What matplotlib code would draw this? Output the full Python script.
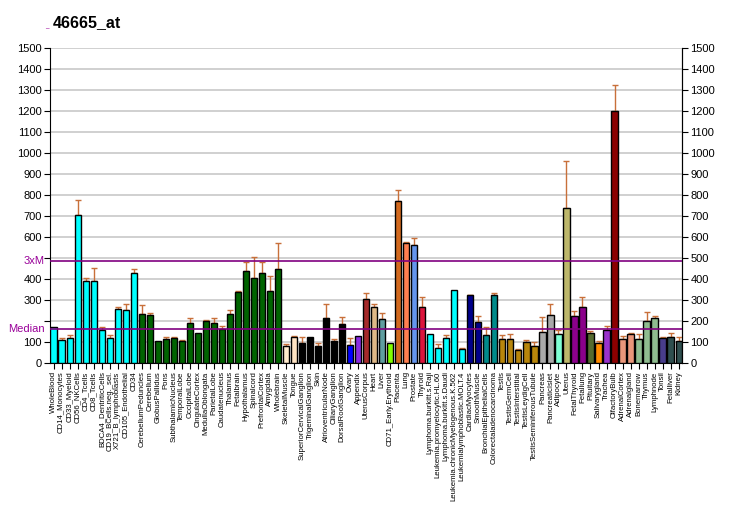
import numpy as np
import matplotlib
matplotlib.use("Agg")
import matplotlib.pyplot as plt

# Tissue names, in plot order
tissues = [
    "WholeBlood", "CD14_Monocytes", "CD33_Myeloid", "CD56_NKCells", "CD4_Tcells",
    "CD8_Tcells", "BDCA4_DentriticCells", "CD19_BCells.neg._sel.", "X721_B_lymphoblasts",
    "CD105_Endothelial", "CD34", "CerebellumPeduncles", "Cerebellum", "GlobusPallidus",
    "Pons", "SubthalamicNucleus", "TemporalLobe", "OccipitalLobe", "CingulateCortex",
    "MedullaOblongata", "ParietalLobe", "Caudatenucleus", "Thalamus", "Fetalbrain",
    "Hypothalamus", "Spinalcord", "PrefrontalCortex", "Amygdala", "Wholebrain",
    "SkeletalMuscle", "Tongue", "SuperiorCervicalGanglion", "TrigeminalGanglion", "Skin",
    "AtrioventricularNode", "CiliaryGanglion", "DorsalRootGanglion", "Ovary", "Appendix",
    "UterusCorpus", "Heart", "Liver", "CD71_Early.Erythroid", "Placenta", "Lung",
    "Prostate", "Thyroid", "Lymphoma.burkitt.s.Raji", "Leukemia.promyelocytic.HL.60",
    "Lymphoma.burkitt.s.Daudi", "Leukemia.chronicMyelogenous.K.562",
    "Leukemialymphoblastic.MOLT.4", "CardiacMyocytes", "SmoothMuscle",
    "BronchialEpithelialCells", "Colorectaladenocarcinoma", "Testis", "TestisGermCell",
    "TestisInterstitial", "TestisLeydigCell", "TestisSeminiferousTubule", "Pancreas",
    "PancreaticIslet", "Adipocyte", "Uterus", "FetalThyroid", "Fetallung", "Pituitary",
    "Salivarygland", "Trachea", "OlfactoryBulb", "AdrenalCortex", "Adrenalgland",
    "Bonemarrow", "Thymus", "Lymphnode", "Tonsil", "Fetalliver", "Kidney",
]

# bar heights
values = [
    173, 110, 120, 707, 389, 389, 158, 120, 259, 254, 427,
    235, 230, 106, 115, 120, 106, 192, 144, 202, 192, 163, 235, 336,
    437, 403, 427, 341, 446,
    82, 125, 96, 125, 82, 216, 106, 187, 86, 130, 307, 269, 211, 96,
    773, 571, 562, 269, 139, 72, 120, 346, 67, 322, 197, 134, 326,
    115, 115, 62, 101, 82, 149, 230, 139, 739, 226, 269, 144, 96, 158,
    1200, 115, 139, 115, 202, 216, 120, 125, 106,
]

# top of the error whisker (same order); None = no whisker
err_top = [
    None, 120, 134, 778, 403, 451, 173, 134, 269, 283, 446,
    274, 240, None, 125, 125, 110, 216, None, 206, 216, 178, 254, 341,
    480, 504, 480, 413, 571,
    91, 130, 125, None, 96, 283, 115, 221, 120, None, 331, 283, 240, None,
    822, 576, 595, 312, None, 91, 134, None, 72, 326, 226, 173, 331,
    134, 139, 67, 110, 101, 221, 283, 158, 962, 250, 312, 154, 106, 178,
    1324, 130, 144, 139, 245, 226, 125, 144, 125,
]

colors = (
    ["#00FFFF"] * 11 + ["#006400"] * 18 + ["#FFEBCD", "#FFE4C4"] + ["#000000"] * 6 +
    ["#0000FF", "#8A2BE2", "#A52A2A", "#DEB887", "#5F9EA0", "#7FFF00", "#D2691E",
     "#FF7F50", "#6495ED", "#DC143C"] + ["#00FFFF"] * 5 + ["#00008B"] * 2 +
    ["#008B8B"] * 2 + ["#B8860B"] * 5 + ["#A9A9A9"] * 2 +
    ["#7FFFD4", "#BDB76B", "#8B008B", "#8B008B", "#556B2F", "#FF8C00", "#9932CC",
     "#8B0000", "#E9967A", "#E9967A"] + ["#8FBC8F"] * 3 + ["#483D8B"] +
    ["#2F4F4F"] * 2
)

median = 162
three_m = 486

fig = plt.figure(figsize=(7.32, 5.30), dpi=100)
ax = fig.add_axes([50 / 732, 1 - 363 / 530, 632 / 732, 315 / 530])

x = np.arange(len(tissues))
vals = np.array(values)
up = np.array([0 if e is None else e - v for e, v in zip(err_top, values)])
has_err = np.array([e is not None for e in err_top])

ax.yaxis.grid(True, color="#c8c8c8", linewidth=1.2, zorder=0)
ax.set_axisbelow(True)

ax.errorbar(x[has_err], vals[has_err], yerr=[np.zeros(has_err.sum()), up[has_err]],
            fmt="none", ecolor="#C8703A", elinewidth=1, capsize=2.5, capthick=1, zorder=2)
ax.bar(x, vals, width=0.78, color=colors, edgecolor="black", linewidth=1, zorder=3)

ax.axhline(median, color="#800080", linewidth=1.2, zorder=4)
ax.axhline(three_m, color="#800080", linewidth=1.2, zorder=4)
ax.text(-0.008, median, "Median", transform=ax.get_yaxis_transform(), ha="right",
        va="center", color="#990099", fontsize=8, family="Liberation Sans")
ax.text(-0.008, three_m, "3xM", transform=ax.get_yaxis_transform(), ha="right",
        va="center", color="#990099", fontsize=8, family="Liberation Sans")

ax.set_xlim(-0.45, len(tissues) - 0.58)
ax.set_ylim(0, 1500)
yt = np.arange(0, 1501, 100)
ax.set_yticks(yt)
# left side: the 200 and 500 labels give way to Median / 3xM
ax.set_yticklabels(["" if v in (200, 500) else str(v) for v in yt])
ax.tick_params(axis="y", which="both", labelsize=8, direction="out", length=4, pad=2)
ax2 = ax.secondary_yaxis("right")
ax2.set_yticks(yt)
ax2.tick_params(labelsize=8, direction="out", length=4, pad=2)
for lab in ax.get_yticklabels() + ax2.get_yticklabels():
    lab.set_family("Liberation Sans")
ax.set_xticks(x)
ax.set_xticklabels(tissues, rotation=90, fontsize=5.6,
                   family=["Liberation Sans Narrow", "Liberation Sans"])
ax.tick_params(axis="x", direction="out", length=4, pad=2)
ax.spines["top"].set_visible(False)

fig.text(45 / 732, 1 - 27 / 530, "_", color="#990099", fontsize=5, va="baseline")
fig.text(53 / 732, 1 - 27 / 530, "46665_at", color="black", fontsize=11.5,
         fontweight="bold", family="Liberation Sans", va="baseline")

fig.savefig("out.png", dpi=100)
